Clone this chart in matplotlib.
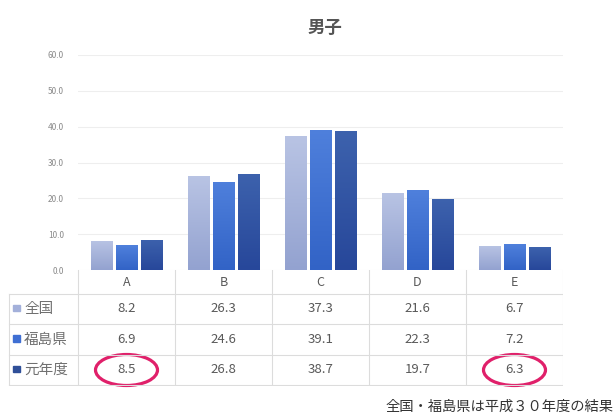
import matplotlib
matplotlib.use("Agg")
import matplotlib.pyplot as plt
import numpy as np
from matplotlib.colors import LinearSegmentedColormap
from matplotlib.patches import Ellipse, Rectangle

plt.rcParams['font.family'] = ['Noto Sans CJK JP', 'DejaVu Sans']

# data
categories = ["A", "B", "C", "D", "E"]
series_names = ["全国", "福島県", "元年度"]
zenkoku = [8.2, 26.3, 37.3, 21.6, 6.7]
fukushima = [6.9, 24.6, 39.1, 22.3, 7.2]
gannendo = [8.5, 26.8, 38.7, 19.7, 6.3]
y_ticks = [0, 10, 20, 30, 40, 50, 60]
title = "男子"
footnote = "全国・福島県は平成３０年度の結果"
highlight = [("元年度", "A"), ("元年度", "E")]

series_values = [zenkoku, fukushima, gannendo]
# (top, bottom) gradient colours per series
grad_colors = [("#b9c4e4", "#93a2d0"),
               ("#4f80dc", "#3263c6"),
               ("#3d62ad", "#27479a")]
legend_colors = ["#a3b0da", "#3f6fd3", "#2f4f98"]

W, H = 616, 416
fig = plt.figure(figsize=(W / 100, H / 100), dpi=100)
fig.patch.set_facecolor("white")

# plot area in pixels
px_left, px_right = 78, 563
px_top, px_bottom = 55, 270
ax = fig.add_axes([px_left / W, 1 - px_bottom / H,
                   (px_right - px_left) / W, (px_bottom - px_top) / H])
ax.set_xlim(-0.5, len(categories) - 0.5)
ax.set_ylim(0, 60)
for s in ax.spines.values():
    s.set_visible(False)
ax.set_yticks(y_ticks)
ax.set_yticklabels([f"{v:.1f}" for v in y_ticks], fontsize=6, color="#8a8a8a")
ax.tick_params(axis="y", length=0, pad=10)
ax.set_xticks([])
ax.grid(axis="y", color="#eeeeee", linewidth=0.8)
ax.set_axisbelow(True)

x = np.arange(len(categories))
slot = 0.257
bw = 0.225
grad = np.linspace(1, 0, 256).reshape(-1, 1)
for i, (vals, (ctop, cbot)) in enumerate(zip(series_values, grad_colors)):
    bars = ax.bar(x + (i - 1) * slot, vals, width=bw, color=cbot,
                  edgecolor="white", linewidth=0.6, zorder=2)
    cmap = LinearSegmentedColormap.from_list(f"g{i}", [cbot, ctop])
    for b in bars:
        x0, y0 = b.get_x(), b.get_y()
        im = ax.imshow(grad, cmap=cmap, aspect="auto", zorder=2.5,
                       extent=[x0, x0 + b.get_width(), y0, y0 + b.get_height()],
                       interpolation="bilinear")
        im.set_clip_path(b)
ax.set_xlim(-0.5, len(categories) - 0.5)
ax.set_ylim(0, 60)

fig.text(325 / W, 1 - 28 / H, title, ha="center", va="center",
         fontsize=12.5, fontweight="bold", color="#555555")

# data table below the plot, laid out in pixel units
tx0, tx1 = 8, 563
ty0, ty1 = 270, 386
tax = fig.add_axes([tx0 / W, 1 - ty1 / H, (tx1 - tx0) / W, (ty1 - ty0) / H])
tax.set_xlim(tx0, tx1)
tax.set_ylim(ty1, ty0)
tax.axis("off")

col_w = (px_right - px_left) / len(categories)
col_edges = [px_left + k * col_w for k in range(len(categories) + 1)]
row_edges = [270, 294, 324, 355, 385]
line_c = "#dcdcdc"
for xe in col_edges:
    tax.plot([xe, xe], [row_edges[0], row_edges[-1]], color=line_c, lw=0.8)
tax.plot([tx0 + 1, tx0 + 1], [row_edges[1], row_edges[-1]], color=line_c, lw=0.8)
for ye in row_edges[1:]:
    tax.plot([tx0 + 1, px_right], [ye, ye], color=line_c, lw=0.8)

for k, c in enumerate(categories):
    cx = (col_edges[k] + col_edges[k + 1]) / 2
    tax.text(cx, 283, c, ha="center", va="center", fontsize=9, color="#595959")

for r, (name, vals, lc) in enumerate(zip(series_names, series_values, legend_colors)):
    cy = (row_edges[r + 1] + row_edges[r + 2]) / 2
    tax.add_patch(Rectangle((13, cy - 4), 6.5, 6.5, color=lc))
    tax.text(24, cy, name, ha="left", va="center", fontsize=10.5, color="#707070")
    for k, v in enumerate(vals):
        cx = (col_edges[k] + col_edges[k + 1]) / 2
        tax.text(cx, cy, f"{v:.1f}", ha="center", va="center",
                 fontsize=9.5, color="#595959")
        if (name, categories[k]) in highlight:
            tax.add_patch(Ellipse((cx, cy), 62, 31, fill=False,
                                  edgecolor="#e0206a", lw=2.3, clip_on=False))

fig.text(385 / W, 1 - 407 / H, footnote, ha="left", va="center",
         fontsize=10.3, color="#333333")

fig.savefig("out.png", dpi=100)
